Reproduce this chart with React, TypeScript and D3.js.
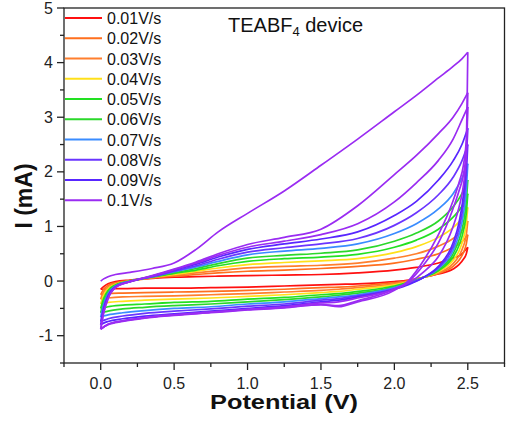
import React from 'react';
import * as d3 from 'd3';

// ---- data ----
const rateLabels = ['0.01V/s', '0.02V/s', '0.03V/s', '0.04V/s', '0.05V/s', '0.06V/s', '0.07V/s', '0.08V/s', '0.09V/s', '0.1V/s'];
const rateColors = ['#ff1010', '#ff6f1e', '#ff7f2e', '#ffe01a', '#22e022', '#2bd82b', '#3a8cff', '#6a35ff', '#5826ff', '#9a2cf2'];

const xTicks = [0, 0.5, 1.0, 1.5, 2.0, 2.5];
const yTicks = [-1, 0, 1, 2, 3, 4, 5];

// forward-scan potentials (V) and reverse-scan potentials (V)
const FWD_V = [0, 0.02, 0.05, 0.1, 0.2, 0.35, 0.5, 0.65, 0.8, 1.0, 1.25, 1.5, 1.75, 2.0, 2.15, 2.3, 2.4, 2.46, 2.5];
const REV_V = [2.5, 2.49, 2.47, 2.44, 2.4, 2.3, 2.2, 2.1, 2.0, 1.75, 1.62, 1.5, 1.25, 1.0, 0.75, 0.5, 0.3, 0.15, 0.05, 0.02, 0];

// currents (mA)
const f001 = [-0.15, -0.1, -0.05, -0.01, 0.02, 0.05, 0.07, 0.08, 0.09, 0.1, 0.11, 0.12, 0.15, 0.2, 0.25, 0.33, 0.42, 0.5, 0.62];
const r001 = [0.62, 0.5, 0.4, 0.3, 0.22, 0.13, 0.07, 0.02, -0.01, -0.05, -0.06, -0.07, -0.09, -0.11, -0.12, -0.13, -0.13, -0.14, -0.14, -0.15, -0.15];
const f002 = [-0.25, -0.15, -0.08, -0.03, 0.01, 0.06, 0.09, 0.12, 0.15, 0.18, 0.2, 0.23, 0.27, 0.33, 0.4, 0.5, 0.62, 0.72, 0.85];
const r002 = [0.85, 0.68, 0.52, 0.38, 0.27, 0.14, 0.07, 0.01, -0.03, -0.09, -0.11, -0.12, -0.15, -0.17, -0.19, -0.2, -0.21, -0.22, -0.23, -0.24, -0.25];
const f003 = [-0.33, -0.2, -0.11, -0.05, 0.0, 0.06, 0.11, 0.15, 0.19, 0.24, 0.27, 0.29, 0.33, 0.42, 0.5, 0.64, 0.78, 0.92, 1.1];
const r003 = [1.1, 0.85, 0.64, 0.46, 0.32, 0.15, 0.07, 0.0, -0.05, -0.12, -0.15, -0.17, -0.2, -0.23, -0.25, -0.27, -0.28, -0.29, -0.31, -0.32, -0.33];
const f004 = [-0.42, -0.26, -0.14, -0.06, 0.0, 0.07, 0.12, 0.18, 0.24, 0.3, 0.34, 0.37, 0.41, 0.52, 0.63, 0.8, 0.98, 1.15, 1.35];
const r004 = [1.35, 1.05, 0.78, 0.55, 0.38, 0.17, 0.07, -0.01, -0.07, -0.15, -0.19, -0.21, -0.25, -0.28, -0.31, -0.33, -0.35, -0.37, -0.39, -0.41, -0.42];
const f005 = [-0.5, -0.32, -0.17, -0.07, 0.0, 0.07, 0.14, 0.2, 0.28, 0.36, 0.41, 0.44, 0.49, 0.62, 0.75, 0.95, 1.17, 1.37, 1.6];
const r005 = [1.6, 1.25, 0.92, 0.65, 0.44, 0.19, 0.07, -0.02, -0.09, -0.19, -0.23, -0.25, -0.3, -0.33, -0.37, -0.39, -0.42, -0.44, -0.47, -0.49, -0.5];
const f006 = [-0.58, -0.38, -0.2, -0.08, 0.0, 0.08, 0.15, 0.23, 0.32, 0.42, 0.47, 0.51, 0.57, 0.73, 0.88, 1.1, 1.36, 1.6, 1.85];
const r006 = [1.85, 1.45, 1.06, 0.75, 0.5, 0.21, 0.07, -0.03, -0.11, -0.22, -0.26, -0.29, -0.34, -0.38, -0.42, -0.45, -0.48, -0.51, -0.55, -0.57, -0.58];
const f007 = [-0.66, -0.43, -0.23, -0.09, 0.0, 0.08, 0.17, 0.26, 0.36, 0.48, 0.55, 0.6, 0.68, 0.87, 1.05, 1.32, 1.6, 1.88, 2.15];
const r007 = [2.15, 1.68, 1.22, 0.85, 0.56, 0.23, 0.07, -0.04, -0.12, -0.25, -0.29, -0.32, -0.38, -0.42, -0.47, -0.5, -0.54, -0.58, -0.62, -0.64, -0.66];
const f008 = [-0.74, -0.48, -0.26, -0.1, -0.01, 0.08, 0.18, 0.28, 0.4, 0.53, 0.61, 0.68, 0.78, 1.02, 1.25, 1.58, 1.9, 2.2, 2.5];
const r008 = [2.5, 1.95, 1.4, 0.96, 0.63, 0.25, 0.07, -0.05, -0.14, -0.27, -0.32, -0.35, -0.42, -0.46, -0.51, -0.55, -0.59, -0.64, -0.69, -0.72, -0.74];
const f009 = [-0.8, -0.53, -0.29, -0.11, -0.01, 0.09, 0.2, 0.31, 0.44, 0.58, 0.68, 0.77, 0.9, 1.2, 1.46, 1.85, 2.2, 2.5, 2.8];
const r009 = [2.8, 2.2, 1.57, 1.07, 0.7, 0.27, 0.07, -0.06, -0.15, -0.29, -0.35, -0.38, -0.45, -0.5, -0.55, -0.6, -0.64, -0.69, -0.74, -0.77, -0.8];
// 0.1 V/s: three cycles
const f010a = [0.0, 0.04, 0.08, 0.12, 0.16, 0.23, 0.33, 0.58, 0.9, 1.24, 1.65, 2.12, 2.6, 3.1, 3.4, 3.72, 3.93, 4.07, 4.19];
const r010a = [4.19, 2.6, 2.12, 1.8, 1.47, 0.85, 0.38, 0.02, -0.17, -0.38, -0.47, -0.43, -0.48, -0.52, -0.57, -0.62, -0.67, -0.73, -0.79, -0.84, -0.88];
const f010b = [-0.88, -0.58, -0.32, -0.12, -0.01, 0.1, 0.22, 0.35, 0.5, 0.67, 0.8, 0.95, 1.38, 1.95, 2.3, 2.7, 3.0, 3.25, 3.45];
const r010b = [3.45, 2.4, 1.95, 1.65, 1.33, 0.7, 0.3, 0.0, -0.15, -0.36, -0.45, -0.43, -0.49, -0.53, -0.58, -0.63, -0.68, -0.74, -0.8, -0.84, -0.88];
const f010c = [-0.88, -0.58, -0.32, -0.12, -0.01, 0.09, 0.21, 0.33, 0.47, 0.62, 0.73, 0.85, 1.05, 1.45, 1.8, 2.21, 2.6, 2.95, 3.19];
const r010c = [3.19, 2.3, 1.75, 1.35, 1.0, 0.45, 0.17, -0.03, -0.15, -0.31, -0.38, -0.4, -0.47, -0.52, -0.57, -0.62, -0.67, -0.73, -0.79, -0.84, -0.88];

const loops: { rate: number; f: number[]; r: number[] }[] = [
  { rate: 0, f: f001, r: r001 },
  { rate: 1, f: f002, r: r002 },
  { rate: 2, f: f003, r: r003 },
  { rate: 3, f: f004, r: r004 },
  { rate: 4, f: f005, r: r005 },
  { rate: 5, f: f006, r: r006 },
  { rate: 6, f: f007, r: r007 },
  { rate: 7, f: f008, r: r008 },
  { rate: 8, f: f009, r: r009 },
  { rate: 9, f: f010c, r: r010c },
  { rate: 9, f: f010b, r: r010b },
  { rate: 9, f: f010a, r: r010a },
];

// ---- layout ----
const W = 508;
const H = 433;
const left = 64;
const right = 504.5;
const top = 8;
const bottom = 363;
const FONT = '"Liberation Sans", Arial, Helvetica, sans-serif';

export default function App() {
  const x = d3.scaleLinear().domain([-0.25, 2.75]).range([left, right]);
  const y = d3.scaleLinear().domain([-1.5, 5]).range([bottom, top]);
  const line = d3
    .line<[number, number]>()
    .x((d) => x(d[0]))
    .y((d) => y(d[1]))
    .curve(d3.curveMonotoneX);

  const xMinor = d3.range(-0.25, 2.76, 0.25).filter((v) => !xTicks.some((t) => Math.abs(t - v) < 1e-6));
  const yMinor = d3.range(-1.5, 5.01, 0.5).filter((v) => !yTicks.some((t) => Math.abs(t - v) < 1e-6));

  return (
    <svg width={W} height={H} style={{ position: 'absolute', left: 0, top: 0, background: '#fff' }} fontFamily={FONT}>
      <defs>
        <clipPath id="plotclip">
          <rect x={left} y={top} width={right - left} height={bottom - top} />
        </clipPath>
      </defs>
      <g clipPath="url(#plotclip)" fill="none" strokeWidth={1.7} strokeLinejoin="round">
        {loops.map((lp, i) => {
          const fwd: [number, number][] = FWD_V.map((v, k) => [v, lp.f[k]]);
          const rev: [number, number][] = REV_V.map((v, k) => [v, lp.r[k]] as [number, number]).reverse();
          return (
            <g key={i} stroke={rateColors[lp.rate]}>
              <path d={line(fwd) || ''} />
              <path d={line(rev) || ''} />
            </g>
          );
        })}
      </g>

      {/* legend */}
      <g>
        {rateLabels.map((lab, i) => {
          const yy = 18 + i * 20.25;
          return (
            <g key={lab}>
              <line x1={left + 1} x2={102} y1={yy} y2={yy} stroke={rateColors[i]} strokeWidth={2} />
              <text x={107} y={yy + 6} fontSize={16} fill="#111">
                {lab}
              </text>
            </g>
          );
        })}
      </g>

      <text x={228} y={32} fontSize={20} fill="#111">
        TEABF<tspan fontSize={13} dy={4}>4</tspan>
        <tspan dy={-4}> device</tspan>
      </text>

      {/* frame */}
      <rect x={left} y={top} width={right - left} height={bottom - top} fill="none" stroke="#222" strokeWidth={1.3} />

      {/* x axis ticks */}
      {xTicks.map((t) => (
        <g key={'xt' + t}>
          <line x1={x(t)} x2={x(t)} y1={bottom} y2={bottom + 7} stroke="#222" strokeWidth={1.3} />
          <text x={x(t)} y={bottom + 25.5} fontSize={16} textAnchor="middle" fill="#222">
            {t.toFixed(1)}
          </text>
        </g>
      ))}
      {xMinor.map((t) => (
        <line key={'xm' + t} x1={x(t)} x2={x(t)} y1={bottom} y2={bottom + 4} stroke="#222" strokeWidth={1.3} />
      ))}

      {/* y axis ticks */}
      {yTicks.map((t) => (
        <g key={'yt' + t}>
          <line x1={left - 7} x2={left} y1={y(t)} y2={y(t)} stroke="#222" strokeWidth={1.3} />
          <text x={53} y={y(t) + 5.5} fontSize={16} textAnchor="end" fill="#222">
            {t}
          </text>
        </g>
      ))}
      {yMinor.map((t) => (
        <line key={'ym' + t} x1={left - 4} x2={left} y1={y(t)} y2={y(t)} stroke="#222" strokeWidth={1.3} />
      ))}

      {/* axis titles */}
      <text x={284} y={409} fontSize={20} fontWeight="bold" textAnchor="middle" fill="#111" textLength={148} lengthAdjust="spacingAndGlyphs">
        Potential (V)
      </text>
      <text transform="translate(32,196) rotate(-90)" fontSize={23} fontWeight="bold" textAnchor="middle" fill="#111">
        I (mA)
      </text>
    </svg>
  );
}
